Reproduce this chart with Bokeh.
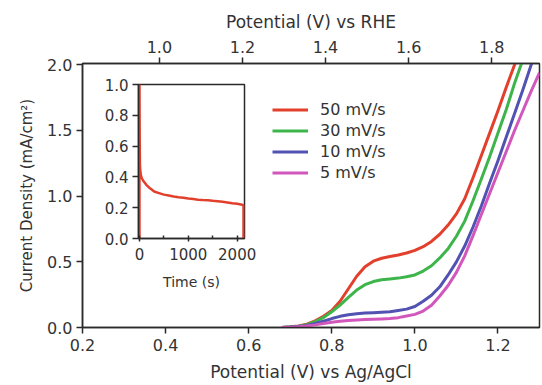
from bokeh.plotting import figure
from bokeh.models import (Range1d, LinearAxis, FixedTicker, PrintfTickFormatter,
                          Legend, LegendItem)
from bokeh.embed import file_html
from bokeh.resources import INLINE

# ---------------- data ----------------
potential = [0.68, 0.70, 0.72, 0.74, 0.76, 0.78, 0.80, 0.82, 0.84, 0.86, 0.88, 0.90,
             0.92, 0.94, 0.96, 0.98, 1.00, 1.02, 1.04, 1.06, 1.08, 1.10, 1.12, 1.14,
             1.16, 1.18, 1.20, 1.22, 1.24, 1.26, 1.28, 1.30]
j_50 = [0.0, 0.005, 0.012, 0.025, 0.05, 0.085, 0.13, 0.20, 0.295, 0.39, 0.462, 0.505,
        0.527, 0.54, 0.552, 0.567, 0.587, 0.615, 0.655, 0.71, 0.78, 0.865, 0.98, 1.14,
        1.31, 1.48, 1.65, 1.83, 2.00, 2.17, 2.34, 2.51]
j_30 = [0.0, 0.004, 0.010, 0.022, 0.045, 0.075, 0.12, 0.17, 0.23, 0.285, 0.326, 0.35,
        0.363, 0.37, 0.376, 0.386, 0.40, 0.43, 0.47, 0.53, 0.60, 0.695, 0.81, 0.965,
        1.13, 1.30, 1.48, 1.66, 1.86, 2.04, 2.22, 2.40]
j_10 = [0.0, 0.003, 0.008, 0.016, 0.03, 0.048, 0.068, 0.085, 0.097, 0.105, 0.11, 0.113,
        0.116, 0.12, 0.13, 0.14, 0.16, 0.20, 0.245, 0.31, 0.40, 0.50, 0.62, 0.765,
        0.925, 1.10, 1.27, 1.45, 1.63, 1.81, 2.00, 2.18]
j_5 = [0.0, 0.002, 0.006, 0.012, 0.02, 0.03, 0.04, 0.048, 0.054, 0.058, 0.06, 0.062,
       0.065, 0.068, 0.075, 0.088, 0.10, 0.125, 0.17, 0.24, 0.32, 0.42, 0.545, 0.70,
       0.86, 1.02, 1.18, 1.34, 1.50, 1.65, 1.80, 1.94]
series_labels = ["50 mV/s", "30 mV/s", "10 mV/s", "5 mV/s"]
series_colors = ["#e2402c", "#3db54b", "#5252b2", "#d257bd"]

x_ticks = [0.2, 0.4, 0.6, 0.8, 1.0, 1.2]
y_ticks = [0.0, 0.5, 1.0, 1.5, 2.0]
rhe_ticks = [1.0, 1.2, 1.4, 1.6, 1.8]
rhe_offset = 0.615

# inset: chronoamperometry
time_s = [0, 0, 5, 10, 20, 30, 45, 60, 80, 100, 150, 200, 250, 300, 400, 500, 600,
          700, 800, 900, 1000, 1100, 1200, 1300, 1400, 1500, 1600, 1700, 1800, 1900,
          2000, 2100, 2130, 2130]
j_time = [0.0, 1.0, 0.62, 0.47, 0.43, 0.41, 0.395, 0.385, 0.373, 0.365, 0.345, 0.33,
          0.318, 0.305, 0.295, 0.285, 0.279, 0.273, 0.268, 0.265, 0.26, 0.256, 0.252,
          0.25, 0.249, 0.245, 0.242, 0.238, 0.234, 0.229, 0.226, 0.219, 0.215, 0.0]
inset_x_ticks = [0, 1000, 2000]
inset_x_minor = [500, 1500]
inset_y_ticks = [0.0, 0.2, 0.4, 0.6, 0.8, 1.0]

FONT = "DejaVu Sans"
TXT = "#333333"
AX = "#2a2a2a"

# ---------------- main figure ----------------
p = figure(width=542, height=385, x_range=Range1d(0.2, 1.3), y_range=Range1d(0, 2.01),
           output_backend="svg", toolbar_location=None,
           min_border_left=82, min_border_right=3, min_border_top=63, min_border_bottom=58)
p.xgrid.visible = False
p.ygrid.visible = False
p.outline_line_color = AX
p.outline_line_width = 1.5
p.background_fill_color = "white"
p.border_fill_color = "white"

renderers = []
for ys, c in zip([j_50, j_30, j_10, j_5], series_colors):
    r = p.line(potential, ys, line_color=c, line_width=3, line_join="round")
    renderers.append(r)

xa = p.below[0]
ya = p.left[0]

p.extra_x_ranges = {"rhe": Range1d(0.2 + rhe_offset, 1.3 + rhe_offset)}
top_axis = LinearAxis(x_range_name="rhe", axis_label="Potential (V) vs RHE",
                      ticker=FixedTicker(ticks=rhe_ticks))
p.add_layout(top_axis, "above")

xa.ticker = FixedTicker(ticks=x_ticks)
xa.axis_label = "Potential (V) vs Ag/AgCl"
ya.ticker = FixedTicker(ticks=y_ticks)
ya.axis_label = "Current Density (mA/cm\u00b2)"

for ax in [xa, ya, top_axis]:
    ax.formatter = PrintfTickFormatter(format="%.1f")
    ax.axis_line_color = AX
    ax.axis_line_width = 1.5
    ax.major_tick_line_color = AX
    ax.major_tick_line_width = 1.5
    ax.major_tick_in = 0
    ax.major_tick_out = 6
    ax.minor_tick_line_color = None
    ax.major_label_text_font = FONT
    ax.major_label_text_font_size = "16px"
    ax.major_label_text_color = TXT
    ax.major_label_standoff = 5
    ax.axis_label_text_font = FONT
    ax.axis_label_text_font_size = "17px"
    ax.axis_label_text_font_style = "normal"
    ax.axis_label_text_color = TXT
    ax.axis_label_standoff = 6
xa.axis_label_standoff = 8
ya.axis_label_text_font_size = "15px"
ya.major_label_standoff = 4
ya.axis_label_standoff = 8

legend = Legend(items=[LegendItem(label=l, renderers=[r]) for l, r in zip(series_labels, renderers)],
                location=(190, 144), orientation="vertical",
                glyph_width=36, glyph_height=21, label_height=21, label_standoff=12,
                spacing=0, padding=0, margin=0, border_line_color=None,
                background_fill_alpha=0, label_text_font=FONT,
                label_text_font_size="16px", label_text_color=TXT)
p.add_layout(legend)

# ---------------- inset figure ----------------
inset = figure(frame_width=106, frame_height=154, x_range=Range1d(-20, 2150), y_range=Range1d(0, 1.0),
               output_backend="svg", toolbar_location=None,
               min_border_left=46, min_border_right=14, min_border_top=8, min_border_bottom=58,
               styles={"position": "absolute", "left": "92px", "top": "76px", "margin": "0"})
inset.xgrid.visible = False
inset.ygrid.visible = False
inset.outline_line_color = AX
inset.outline_line_width = 1.5
inset.background_fill_alpha = 0
inset.border_fill_alpha = 0
inset.line(time_s, j_time, line_color="#e2402c", line_width=2.5)

ixa = inset.below[0]
iya = inset.left[0]
ixa.ticker = FixedTicker(ticks=inset_x_ticks, minor_ticks=inset_x_minor)
ixa.axis_label = "Time (s)"
ixa.major_tick_in = 3
ixa.major_tick_out = 3
ixa.minor_tick_in = 3
ixa.minor_tick_out = 0
ixa.minor_tick_line_color = AX
ixa.minor_tick_line_width = 1.5
iya.ticker = FixedTicker(ticks=inset_y_ticks)
iya.formatter = PrintfTickFormatter(format="%.1f")
iya.major_tick_in = 0
iya.major_tick_out = 6
iya.minor_tick_line_color = None
for ax in [ixa, iya]:
    ax.axis_line_color = AX
    ax.axis_line_width = 1.5
    ax.major_tick_line_color = AX
    ax.major_tick_line_width = 1.5
    ax.major_label_text_font = FONT
    ax.major_label_text_font_size = "15px"
    ax.major_label_text_color = TXT
    ax.major_label_standoff = 4
    ax.axis_label_text_font = FONT
    ax.axis_label_text_font_size = "14px"
    ax.axis_label_text_font_style = "normal"
    ax.axis_label_text_color = TXT
    ax.axis_label_standoff = 8
ixa.major_label_standoff = 6
ixa.axis_label_standoff = 11

open("out.html", "w").write(file_html([p, inset], INLINE))
